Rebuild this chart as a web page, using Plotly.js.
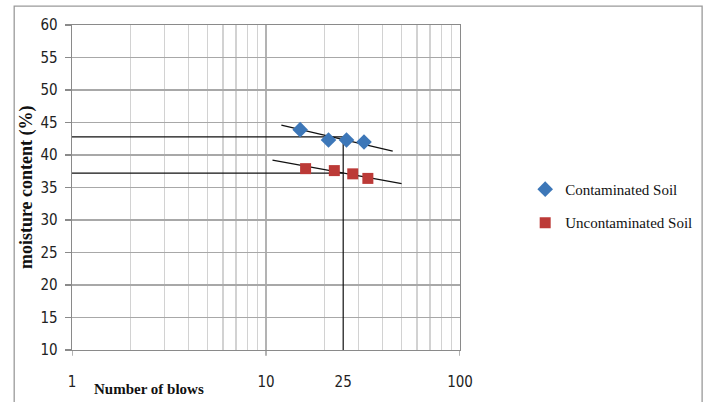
<!DOCTYPE html>
<html>
<head>
<meta charset="utf-8">
<script src="https://cdn.plot.ly/plotly-3.0.1.min.js"></script>
<style>html,body{margin:0;padding:0;background:#fff;}#chart{width:708px;height:402px;}</style>
</head>
<body>
<div id="chart"></div>
<script>
// Data
const seriesNames = ["Contaminated Soil", "Uncontaminated Soil"];
const blowsContaminated = [15, 21, 26, 32];
const moistureContaminated = [43.9, 42.3, 42.3, 42.0];
const blowsUncontaminated = [16, 22.5, 28, 33.5];
const moistureUncontaminated = [37.9, 37.6, 37.1, 36.4];
// Trend lines (end points)
const trendContaminatedX = [12, 45];
const trendContaminatedY = [44.6, 40.6];
const trendUncontaminatedX = [10.8, 50];
const trendUncontaminatedY = [39.2, 35.6];
// Reading at 25 blows
const blowsRef = 25;
const llContaminated = 42.8;
const llUncontaminated = 37.2;
const xTickVals = [1, 10, 25, 100];
const xTickText = ["1", "10", "25", "100"];
const xMinorGrid = [2,3,4,5,6,7,8,9,20,30,40,50,60,70,80,90];
const xMajorGrid = [10];
const xTickMarks = [1, 10, 100];

const blue = "#3D77B8";
const red = "#BC3A37";
const lineStyle = {color: "#111", width: 1.2};

const traces = [
  {x: trendContaminatedX, y: trendContaminatedY, mode: "lines", line: lineStyle, showlegend: false, hoverinfo: "skip"},
  {x: trendUncontaminatedX, y: trendUncontaminatedY, mode: "lines", line: lineStyle, showlegend: false, hoverinfo: "skip"},
  {x: [1, blowsRef], y: [llContaminated, llContaminated], mode: "lines", line: lineStyle, showlegend: false},
  {x: [1, blowsRef], y: [llUncontaminated, llUncontaminated], mode: "lines", line: lineStyle, showlegend: false},
  {x: [blowsRef, blowsRef], y: [10, llContaminated], mode: "lines", line: lineStyle, showlegend: false},
  {x: blowsContaminated, y: moistureContaminated, mode: "markers", name: seriesNames[0], legendgroup: "a",
   marker: {symbol: "diamond", size: 12, color: blue}},
  {x: blowsUncontaminated, y: moistureUncontaminated, mode: "markers", name: seriesNames[1], legendgroup: "b",
   marker: {symbol: "square", size: 11, color: red}}
];

const shapes = [];
xMajorGrid.forEach(v => shapes.push({type: "line", xref: "x", yref: "paper", x0: v, x1: v, y0: 0, y1: 1,
  line: {color: "#8a8a8a", width: 1.3}, layer: "between"}));
xTickMarks.forEach(v => shapes.push({type: "line", xref: "x", yref: "paper", x0: v, x1: v, y0: 0, y1: -0.018,
  line: {color: "#8a8a8a", width: 1.3}}));
shapes.push({type: "rect", xref: "paper", yref: "paper", x0: -0.149, x1: 1.624, y0: -0.3, y1: 1.058,
  line: {color: "#9a9a9a", width: 1.3}, fillcolor: "rgba(0,0,0,0)"});

const tickFont = {family: "Liberation Sans Narrow, DejaVu Sans Condensed, sans-serif", size: 15, color: "#222"};

const layout = {
  width: 708, height: 402,
  margin: {l: 72, r: 248, t: 25, b: 52, autoexpand: false},
  paper_bgcolor: "#fff", plot_bgcolor: "#fff",
  showlegend: true,
  xaxis: {
    type: "log", range: [0, 2],
    tickmode: "array", tickvals: xTickVals, ticktext: xTickText,
    ticks: "", showgrid: false, zeroline: false,
    showline: true, linecolor: "#8a8a8a", linewidth: 1.3, mirror: true,
    tickfont: tickFont, ticklabelstandoff: 18,
    minor: {tickmode: "array", tickvals: xMinorGrid, showgrid: true, gridcolor: "#d2d2d2", gridwidth: 1.2, ticks: ""}
  },
  yaxis: {
    range: [10, 60], tickmode: "linear", tick0: 10, dtick: 5,
    ticks: "outside", ticklen: 6, tickcolor: "#8a8a8a", tickwidth: 1.3,
    showgrid: true, gridcolor: "#a8a8a8", gridwidth: 1.2, zeroline: false,
    showline: true, linecolor: "#8a8a8a", linewidth: 1.3, mirror: true,
    tickfont: tickFont, ticklabelstandoff: 4
  },
  legend: {
    x: 1.168, xanchor: "left", y: 0.545, yanchor: "top",
    font: {family: "Liberation Serif, Times New Roman, serif", size: 15, color: "#111"},
    bgcolor: "rgba(0,0,0,0)", tracegroupgap: 11, traceorder: "grouped", itemwidth: 30
  },
  shapes: shapes,
  annotations: [
    {text: "<b>moisture content (%)</b>", xref: "paper", yref: "paper", x: -0.117, y: 0.5,
     xanchor: "center", yanchor: "middle", textangle: -90, showarrow: false,
     font: {family: "Liberation Serif, Times New Roman, serif", size: 18, color: "#111"}},
    {text: "<b>Number of blows</b>", xref: "paper", yref: "paper", x: 0.198, y: -0.12,
     xanchor: "center", yanchor: "middle", showarrow: false,
     font: {family: "Liberation Serif, Times New Roman, serif", size: 15, color: "#111"}}
  ]
};

Plotly.newPlot("chart", traces, layout, {staticPlot: true, displayModeBar: false});
</script>
</body>
</html>
